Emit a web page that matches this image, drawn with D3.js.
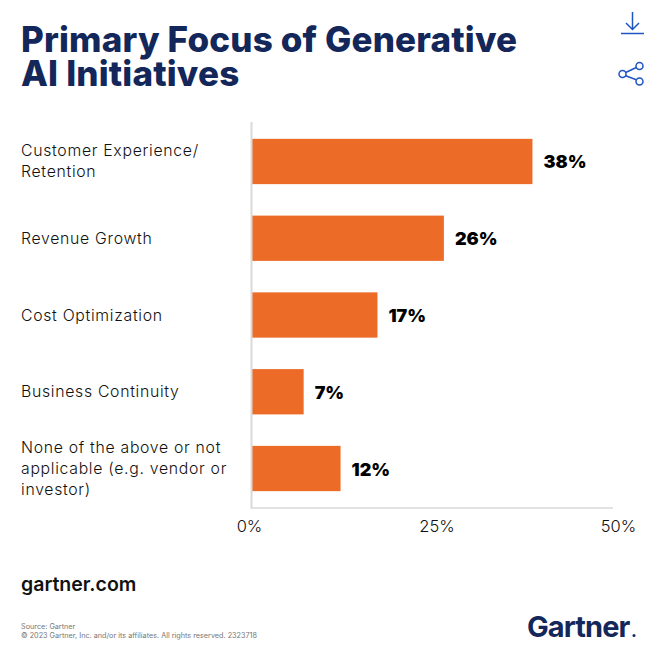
<!DOCTYPE html>
<html>
<head>
<meta charset="utf-8">
<script src="https://cdn.jsdelivr.net/npm/d3@7"></script>
<style>
  html, body { margin: 0; padding: 0; background: #fff; }
  svg { display: block; }
  text { font-family: Inter, "Noto Sans", sans-serif; }
</style>
</head>
<body>
<script>
// values
var categories = [
  ["Customer Experience/", "Retention"],
  ["Revenue Growth"],
  ["Cost Optimization"],
  ["Business Continuity"],
  ["None of the above or not", "applicable (e.g. vendor or", "investor)"]
];
var values = [38, 26, 17, 7, 12];
var xTicks = [0, 25, 50];
var titleLines = ["Primary Focus of Generative", "AI Initiatives"];
var footerLines = ["Source: Gartner", "\u00a9 2023 Gartner, Inc. and/or its affiliates. All rights reserved. 2323718"];

var navy = "#14275a", orange = "#ec6b27", blue = "#1f55c4", grey = "#d9d9d9";

var svg = d3.select("body").append("svg")
  .attr("width", 652)
  .attr("height", 651);

var x = d3.scaleLinear().domain([0, 50]).range([252, 621]);
var y = d3.scaleBand().domain(d3.range(values.length)).range([123.5, 506.5]).paddingInner(0.41).paddingOuter(0.2);

// title
svg.append("g").selectAll("text")
  .data(titleLines)
  .enter().append("text")
  .attr("x", 21)
  .attr("y", function(d, i) { return 51.5 + i * 34.5; })
  .attr("font-size", 35)
  .attr("font-weight", 800)
  .attr("letter-spacing", 0.18)
  .attr("fill", navy)
  .text(function(d) { return d; });

// bars
svg.append("g").selectAll("rect")
  .data(values)
  .enter().append("rect")
  .attr("x", x(0))
  .attr("y", function(d, i) { return y(i); })
  .attr("width", function(d) { return x(d) - x(0); })
  .attr("height", y.bandwidth())
  .attr("fill", orange);

// axis lines
svg.append("line").attr("x1", x(0) - 0.5).attr("x2", x(0) - 0.5).attr("y1", 122).attr("y2", 508.5)
  .attr("stroke", grey).attr("stroke-width", 2);
svg.append("line").attr("x1", x(0) - 1).attr("x2", x(50) - 8).attr("y1", 508).attr("y2", 508)
  .attr("stroke", grey).attr("stroke-width", 1.5);

// value labels
svg.append("g").selectAll("text")
  .data(values)
  .enter().append("text")
  .attr("x", function(d) { return x(d) + 11; })
  .attr("y", function(d, i) { return y(i) + y.bandwidth() / 2 + 7; })
  .attr("font-size", 18)
  .attr("font-weight", 900)
  .attr("fill", "#000")
  .text(function(d) { return d + "%"; });

// category labels
var labels = svg.append("g").selectAll("text")
  .data(categories)
  .enter().append("text")
  .attr("font-size", 15.8)
  .attr("font-weight", 300)
  .attr("letter-spacing", 0.7)
  .attr("fill", "#111");
labels.selectAll("tspan")
  .data(function(d, i) {
    return d.map(function(line, j) {
      return { line: line, y: y(i) + y.bandwidth() / 2 + 5.5 + (j - (d.length - 1) / 2) * 21 };
    });
  })
  .enter().append("tspan")
  .attr("x", 21)
  .attr("y", function(d) { return d.y; })
  .text(function(d) { return d.line; });

// x axis
var xAxis = svg.append("g")
  .attr("transform", "translate(0,508)")
  .call(d3.axisBottom(x).tickValues(xTicks).tickSize(0).tickPadding(12).tickFormat(function(d) { return d + "%"; }));
xAxis.select(".domain").remove();
xAxis.selectAll("text")
  .attr("font-size", 16.5)
  .attr("font-family", "Inter, sans-serif")
  .attr("font-weight", 300)
  .attr("fill", "#111")
  .attr("dx", function(d) { return d === 25 ? 0 : -3; });

// footer
svg.append("text").attr("x", 21).attr("y", 591)
  .attr("font-size", 19.5).attr("font-weight", 600).attr("fill", "#111").text("gartner.com");
svg.append("g").selectAll("text")
  .data(footerLines)
  .enter().append("text")
  .attr("x", 21)
  .attr("y", function(d, i) { return 629 + i * 9; })
  .attr("font-size", 7.25)
  .attr("fill", "#777")
  .text(function(d) { return d; });

// logo wordmark
svg.append("text").attr("x", 527).attr("y", 637)
  .attr("font-size", 29).attr("font-weight", 700).attr("letter-spacing", -0.9).attr("fill", navy).text("Gartner");
svg.append("circle").attr("cx", 634).attr("cy", 635.5).attr("r", 1.5).attr("fill", navy);

// download icon
var icons = svg.append("g").attr("fill", "none").attr("stroke", blue).attr("stroke-width", 1.5);
icons.append("path").attr("d", "M632.5 12V29M626 23L632.5 29.5L639 23");
icons.append("path").attr("d", "M621 33.5H644");
// share icon
icons.append("circle").attr("cx", 622.5).attr("cy", 74).attr("r", 3.5);
icons.append("circle").attr("cx", 639.5).attr("cy", 66).attr("r", 3.5);
icons.append("circle").attr("cx", 639.5).attr("cy", 81.5).attr("r", 3.5);
icons.append("path").attr("d", "M625.7 72.5L636.3 67.5M625.7 75.8L636.3 79.7");
</script>
</body>
</html>
